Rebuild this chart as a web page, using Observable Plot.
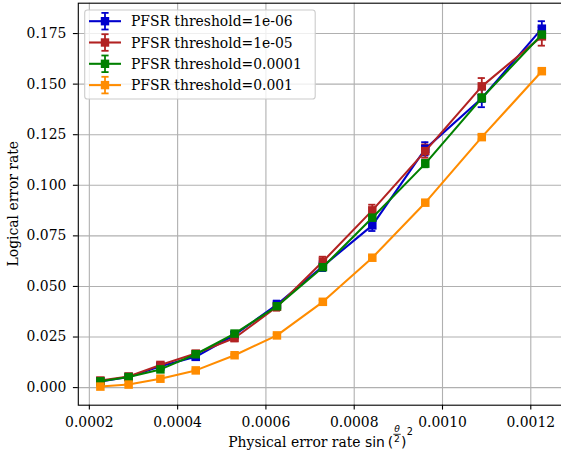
<!DOCTYPE html>
<html><head><meta charset="utf-8">
<script src="https://cdn.jsdelivr.net/npm/d3@7"></script>
<script src="https://cdn.jsdelivr.net/npm/@observablehq/plot@0.6"></script>
<style>
body{margin:0;background:#fff;}
#wrap{position:relative;width:561px;height:461px;overflow:hidden;background:#fff;}
.serif{font-family:"DejaVu Serif" !important;}
.sans{font-family:"DejaVu Sans" !important;}
</style></head><body><div id="wrap"></div>
<script>
// ---- data ----
const physErr = [0.000225, 0.000289, 0.000361, 0.000441, 0.000529, 0.000625, 0.000729, 0.000841, 0.000961, 0.001089, 0.001225];
const seriesLabels = ["PFSR threshold=1e-06", "PFSR threshold=1e-05", "PFSR threshold=0.0001", "PFSR threshold=0.001"];
const seriesColors = ["#0000cd", "#b22222", "#008000", "#ff8c00"];
const ler_1e6  = [0.0030, 0.0052, 0.0105, 0.0152, 0.0260, 0.0410, 0.0600, 0.0802, 0.1180, 0.1430, 0.1774];
const ler_1e5  = [0.0035, 0.0055, 0.0112, 0.0168, 0.0245, 0.0400, 0.0623, 0.0876, 0.1169, 0.1489, 0.1736];
const ler_1e4  = [0.0031, 0.0052, 0.0090, 0.0165, 0.0267, 0.0402, 0.0595, 0.0840, 0.1107, 0.1431, 0.1745];
const ler_1e3  = [0.0005, 0.0015, 0.0044, 0.0085, 0.0160, 0.0258, 0.0424, 0.0642, 0.0914, 0.1238, 0.1564];
const err_1e6  = [0.0005, 0.0007, 0.0010, 0.0012, 0.0016, 0.0020, 0.0024, 0.0028, 0.0033, 0.0044, 0.0037];
const err_1e5  = [0.0006, 0.0007, 0.0010, 0.0013, 0.0016, 0.0020, 0.0024, 0.0028, 0.0033, 0.0041, 0.0046];
const err_1e4  = [0.0004, 0.0005, 0.0006, 0.0008, 0.0010, 0.0012, 0.0014, 0.0016, 0.0018, 0.0019, 0.0020];
const err_1e3  = [0.0002, 0.0003, 0.0004, 0.0005, 0.0006, 0.0007, 0.0008, 0.0009, 0.0010, 0.0011, 0.0012];
const xTicks = [0.0002, 0.0004, 0.0006, 0.0008, 0.0010, 0.0012];
const yTicks = [0, 0.025, 0.05, 0.075, 0.1, 0.125, 0.15, 0.175];
const xLabelText = "Physical error rate ";
const yLabelText = "Logical error rate";

const yVals = [ler_1e6, ler_1e5, ler_1e4, ler_1e3];
const eVals = [err_1e6, err_1e5, err_1e4, err_1e3];

// ---- layout ----
const W = 561, H = 461;
const mL = 77.8, mR = -2.4, mT = 2.7, mB = 56.3;
const xDom = [0.000175, 0.001275];
const yDom = [-0.0087, 0.19];
const pxPerX = (W - mR - mL) / (xDom[1] - xDom[0]);
const capHalf = 3.6 / pxPerX;

const series = seriesLabels.map((label, i) => ({
  label, color: seriesColors[i],
  rows: physErr.map((x, j) => ({x, y: yVals[i][j], e: eVals[i][j]}))
}));

const marks = [
  Plot.gridX(xTicks, {stroke: "#b0b0b0", strokeOpacity: 1, strokeWidth: 1.1}),
  Plot.gridY(yTicks, {stroke: "#b0b0b0", strokeOpacity: 1, strokeWidth: 1.1}),
];
for (const s of series) {
  marks.push(
    Plot.ruleX(s.rows, {x: "x", y1: d => d.y - d.e, y2: d => d.y + d.e, stroke: s.color, strokeWidth: 1.8}),
    Plot.ruleY(s.rows, {y: d => d.y + d.e, x1: d => d.x - capHalf, x2: d => d.x + capHalf, stroke: s.color, strokeWidth: 1.8}),
    Plot.ruleY(s.rows, {y: d => d.y - d.e, x1: d => d.x - capHalf, x2: d => d.x + capHalf, stroke: s.color, strokeWidth: 1.8})
  );
}
for (const s of series) {
  marks.push(
    Plot.line(s.rows, {x: "x", y: "y", stroke: s.color, strokeWidth: 2.08}),
    Plot.dot(s.rows, {x: "x", y: "y", symbol: "square", r: 4.8, fill: s.color, stroke: "none"})
  );
}
marks.push(
  Plot.axisX(xTicks, {tickFormat: d3.format(".4f"), tickSize: 4.9, tickPadding: 7, strokeWidth: 1.1, label: null, fill: "black"}),
  Plot.axisY(yTicks, {tickFormat: d3.format(".3f"), tickSize: 4.9, tickPadding: 7, strokeWidth: 1.1, label: null, fill: "black"}),
  Plot.frame({stroke: "black", strokeWidth: 1.1})
);

const chart = Plot.plot({
  width: W, height: H,
  marginLeft: mL, marginRight: mR, marginTop: mT, marginBottom: mB,
  x: {type: "linear", domain: xDom},
  y: {type: "linear", domain: yDom},
  style: {fontFamily: "DejaVu Serif", fontSize: "13.9px", background: "white", color: "black"},
  marks
});
document.getElementById("wrap").appendChild(chart);

const svg = d3.select(chart);

// y label
svg.append("text").attr("class", "serif")
  .attr("transform", "translate(17.5," + ((mT + H - mB) / 2) + ") rotate(-90)")
  .attr("text-anchor", "middle")
  .attr("font-size", 13.9).attr("fill", "black")
  .text(yLabelText);

// x label with math sin(θ/2)^2
const xl = svg.append("g").attr("text-anchor", "start");
const base = 447;
const t1 = xl.append("text").attr("x", 0).attr("y", base).attr("font-size", 13.9).attr("fill", "black").attr("text-anchor", "start");
t1.append("tspan").attr("class", "serif").text(xLabelText);
t1.append("tspan").attr("class", "sans").text("sin\u2009(");
let cx = t1.node().getComputedTextLength() + 0.3;
const th = xl.append("text").attr("class", "sans").attr("y", 432.4).attr("font-style", "italic")
  .attr("font-size", 9.2).attr("text-anchor", "middle").attr("fill", "black").text("θ");
const two = xl.append("text").attr("class", "sans").attr("y", 442).attr("font-size", 9.2)
  .attr("text-anchor", "middle").attr("fill", "black").text("2");
const fw = Math.max(th.node().getComputedTextLength(), two.node().getComputedTextLength()) + 1.5;
th.attr("x", cx + fw / 2); two.attr("x", cx + fw / 2);
xl.append("line").attr("x1", cx).attr("x2", cx + fw).attr("y1", 434.3).attr("y2", 434.3)
  .attr("stroke", "black").attr("stroke-width", 0.8);
cx += fw + 0.3;
const rp = xl.append("text").attr("class", "sans").attr("x", cx).attr("y", base).attr("text-anchor", "start")
  .attr("font-size", 13.9).attr("fill", "black").text(")");
cx += rp.node().getComputedTextLength() + 0.3;
const sup = xl.append("text").attr("class", "sans").attr("x", cx).attr("y", 435).attr("text-anchor", "start")
  .attr("font-size", 9.7).attr("fill", "black").text("2");
cx += sup.node().getComputedTextLength();
xl.attr("transform", "translate(" + ((mL + W - mR) / 2 - cx / 2) + ",0)");

// legend
const lg = svg.append("g").attr("text-anchor", "start");
lg.append("rect").attr("x", 84.7).attr("y", 10).attr("width", 230.5).attr("height", 89).attr("rx", 2.8)
  .attr("fill", "white").attr("fill-opacity", 0.8).attr("stroke", "#cccccc").attr("stroke-width", 1.1);
series.forEach((s, i) => {
  const yc = 21.2 + i * 21.3;
  const g = lg.append("g");
  g.append("line").attr("x1", 89).attr("x2", 121).attr("y1", yc).attr("y2", yc).attr("stroke", s.color).attr("stroke-width", 2.08);
  g.append("line").attr("x1", 105).attr("x2", 105).attr("y1", yc - 8.3).attr("y2", yc + 8.3).attr("stroke", s.color).attr("stroke-width", 1.8);
  g.append("line").attr("x1", 101.4).attr("x2", 108.6).attr("y1", yc - 8.3).attr("y2", yc - 8.3).attr("stroke", s.color).attr("stroke-width", 1.8);
  g.append("line").attr("x1", 101.4).attr("x2", 108.6).attr("y1", yc + 8.3).attr("y2", yc + 8.3).attr("stroke", s.color).attr("stroke-width", 1.8);
  g.append("rect").attr("x", 105 - 4.2).attr("y", yc - 4.2).attr("width", 8.4).attr("height", 8.4).attr("fill", s.color);
  g.append("text").attr("class", "serif").attr("x", 131).attr("y", yc + 5).attr("font-size", 13.9)
    .attr("text-anchor", "start").attr("fill", "black").text(s.label);
});
</script></body></html>
